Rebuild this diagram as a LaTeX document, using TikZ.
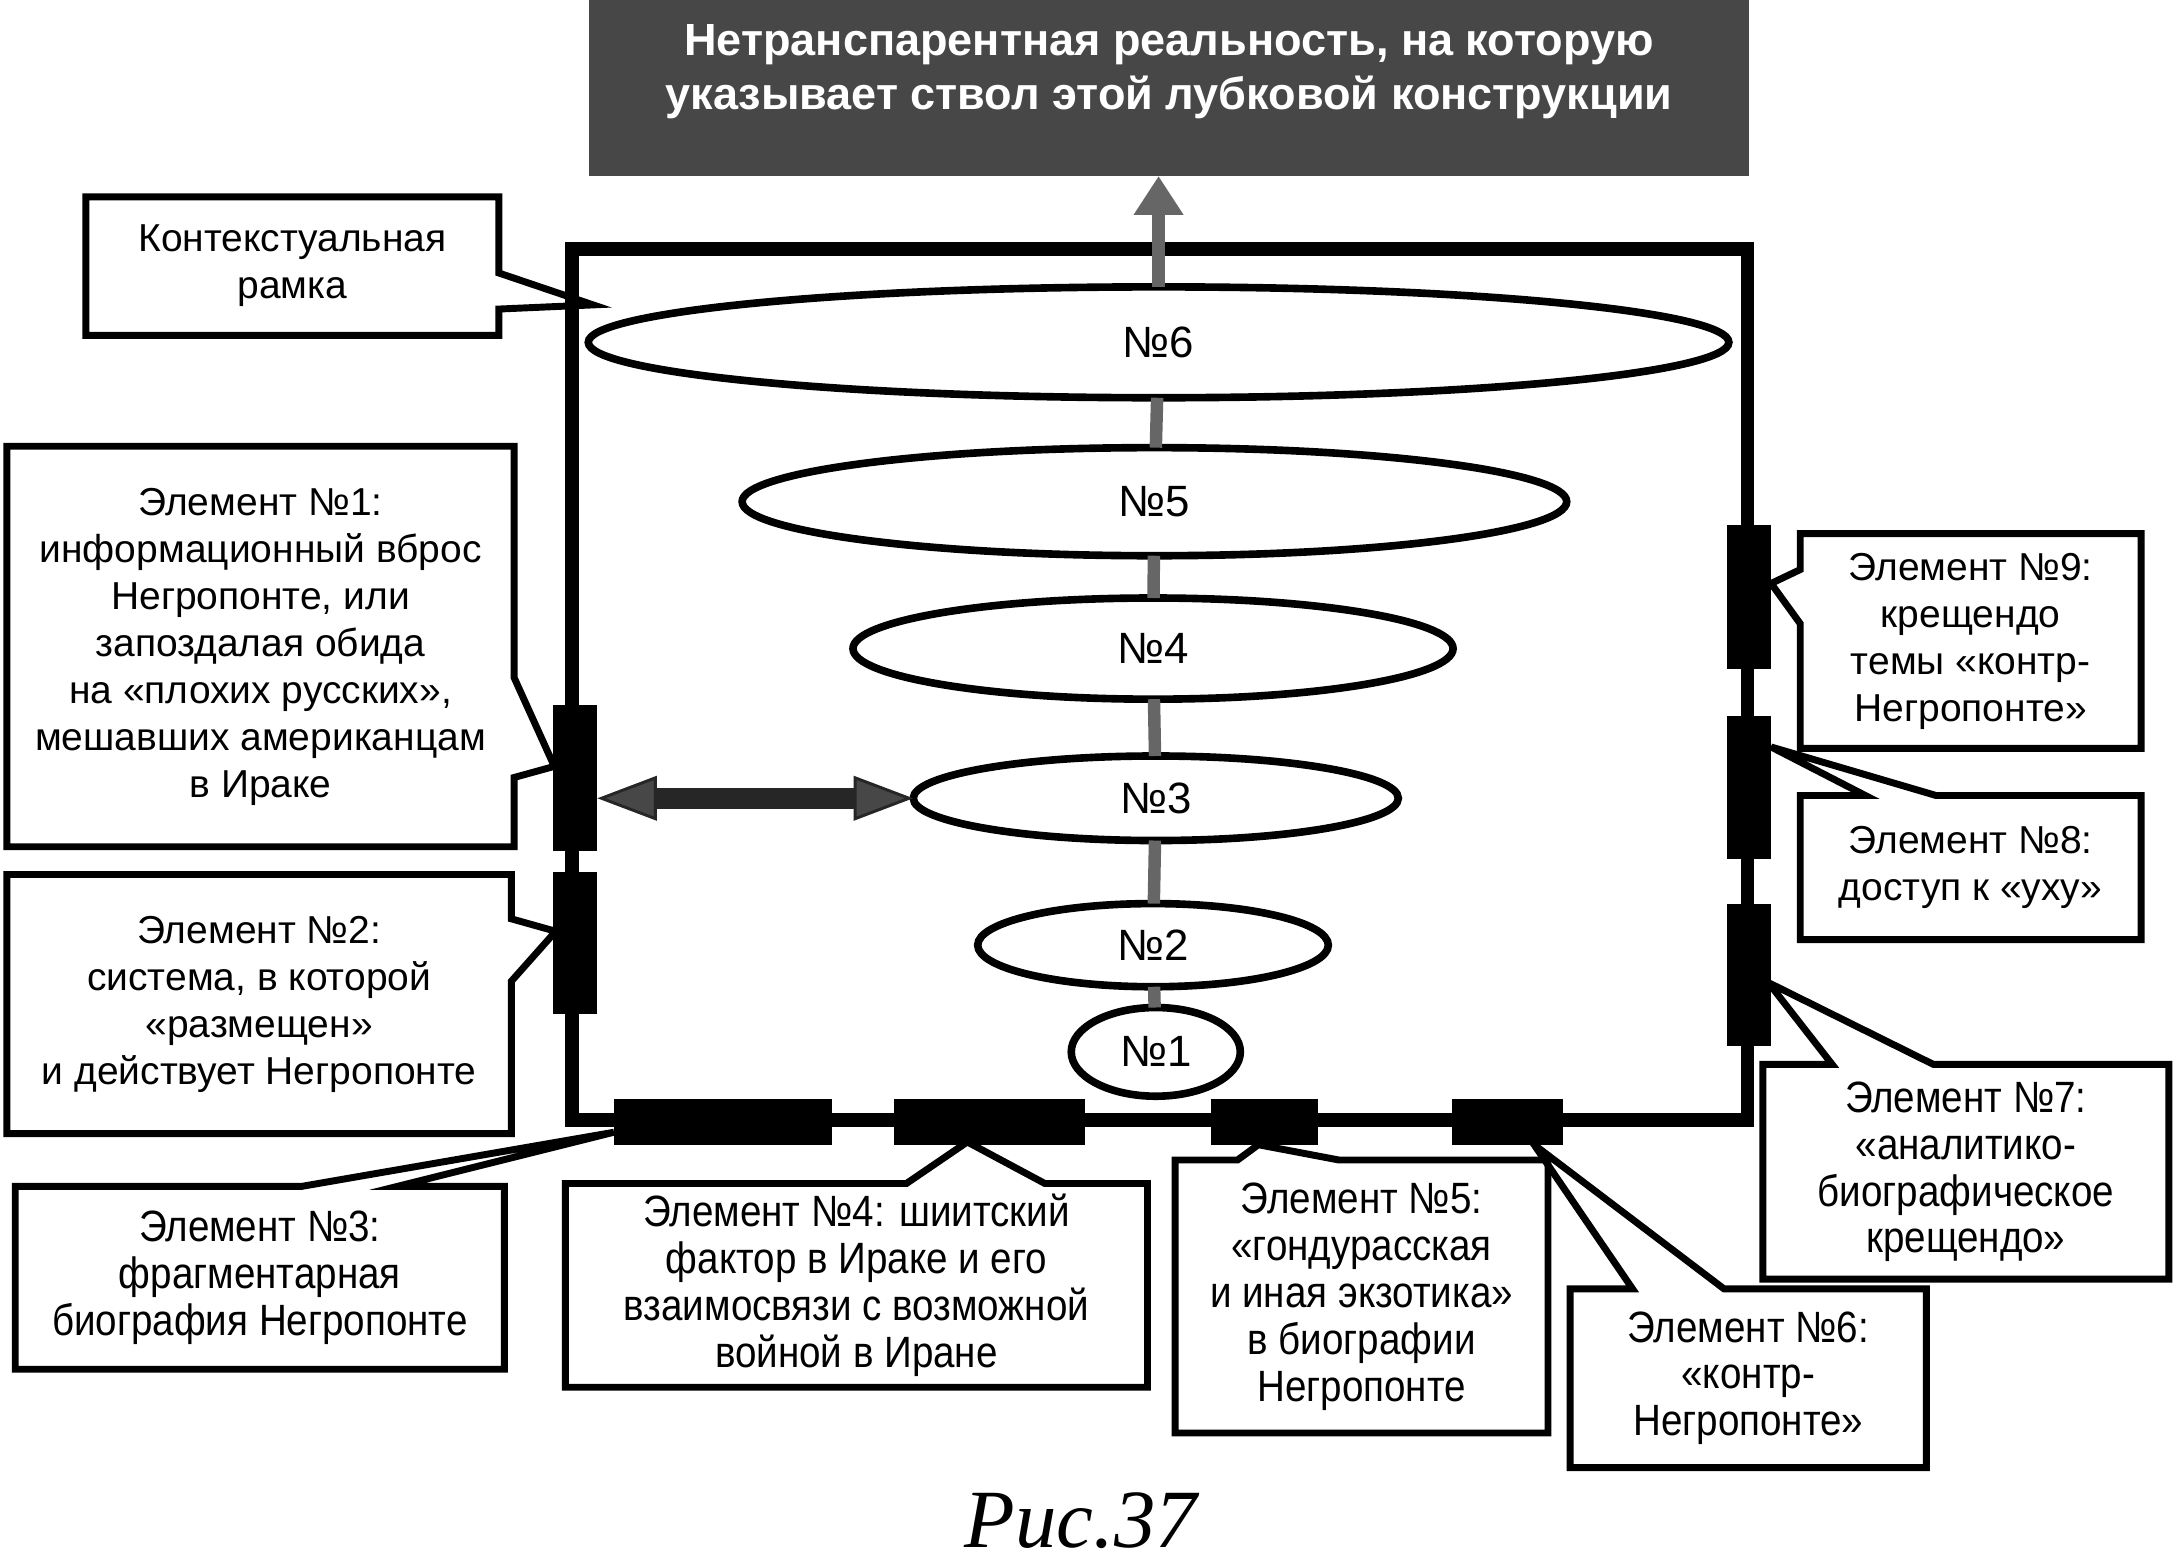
\documentclass[tikz,border=0pt]{standalone}
\usepackage{fontspec}
\setmainfont{Liberation Sans}
\newfontfamily\narrowfont[FakeStretch=0.88]{Liberation Sans}
\newfontfamily\capfont{Liberation Serif}
\usetikzlibrary{shapes.geometric,arrows.meta}

\begin{document}
\begin{tikzpicture}[x=0.02cm,y=-0.02cm,
  box/.style={fill=white,align=center,inner sep=0pt,outer sep=0pt,font=\fontsize{16}{19.3}\selectfont},
  nbox/.style={box,font=\narrowfont\fontsize{18}{19.3}\selectfont},
  callout/.style={draw,line width=0.1cm,line join=miter},
  bar/.style={fill=black,inner sep=0pt,outer sep=0pt},
  oval/.style={ellipse,draw,fill=white,line width=0.11cm,inner sep=0pt,outer sep=0pt,font=\fontsize{18}{20}\selectfont},
  trunk/.style={line width=0.18cm,black!60},
  dblarrow/.style={line width=0.3cm,black!85,{Triangle[length=0.86cm,width=0.64cm,line width=1.2pt,fill=black!72]}-{Triangle[length=0.86cm,width=0.64cm,line width=1.2pt,fill=black!72]}}]

\useasboundingbox (0,0) rectangle (1568,1130);

\node[fill=black!72,minimum width=837*0.02cm,minimum height=127*0.02cm,inner sep=0pt,outer sep=0pt,
  label={[text=white,font=\bfseries\fontsize{18.5}{22.2}\selectfont,align=center,yshift=0.24cm]center:Нетранспарентная реальность, на которую\\указывает ствол этой лубковой конструкции}] (title) at (843.5,63.5) {};

% contextual frame
\draw[line width=0.2cm] (413,179.5) rectangle (1261,808);

\foreach \n/\x/\y/\w/\h in {6/836/247/823/80, 5/833/362/595/78, 4/832/468/433/73, 3/834/576/350/61, 2/832/682/253/60, 1/834/759/122/64}
  \node[oval,minimum width=\w*0.02cm,minimum height=\h*0.02cm] (n\n) at (\x,\y) {№\n};

\foreach \a/\b in {1/2,2/3,3/4,4/5,5/6}
  \draw[trunk] (n\a) -- (n\b);
\draw[trunk,-{Triangle[length=0.56cm,width=0.68cm]}] (n6.north) -- (n6.north |- title.south);

\foreach \b/\x/\y/\w/\h in {1/415/561.5/32/105, 2/415/680.5/32/103, 3/521.5/809.5/157/33, 4/714/809.5/138/33, 5/912.5/809.5/77/33, 6/1088/809.5/80/33, 7/1262/703.5/32/103, 8/1262/568.5/32/103, 9/1262/431/32/104}
  \node[bar,minimum width=\w*0.02cm,minimum height=\h*0.02cm] (b\b) at (\x,\y) {};

\draw[dblarrow] (n3.west -| b1.east) -- (n3.west);

% callouts
\coordinate (t0) at (428,220);
\coordinate (t1) at (400,553);
\coordinate (t2) at (401,672);
\coordinate (t3) at (443,817);
\coordinate (t4) at (698,824);
\coordinate (t5) at (908,826);
\coordinate (t6) at (1107,826);
\coordinate (t7) at (1276,709);
\coordinate (t8) at (1278,539);
\coordinate (t9) at (1278,421);

\node[box,minimum width=298*0.02cm,minimum height=100*0.02cm] (ctx) at (211,192) {Контекстуальная\\рамка};
\draw[callout] (ctx.north west) -- (ctx.north east) -- (360,197) -- (t0) -- (360,223) -- (ctx.south east) -- (ctx.south west) -- cycle;

\node[box,minimum width=366*0.02cm,minimum height=289*0.02cm] (e1) at (188,466.5)
  {Элемент №1:\\информационный вброс\\Негропонте, или\\запоздалая обида\\на «плохих русских»,\\мешавших американцам\\в Ираке};
\draw[callout] (e1.north west) -- (e1.north east) -- (371,489) -- (t1) -- (371,561) -- (e1.south east) -- (e1.south west) -- cycle;

\node[box,minimum width=364*0.02cm,minimum height=187*0.02cm] (e2) at (187,724.5)
  {Элемент №2:\\система, в которой\\«размещен»\\и действует Негропонте};
\draw[callout] (e2.north west) -- (e2.north east) -- (369,663) -- (t2) -- (369,708) -- (e2.south east) -- (e2.south west) -- cycle;

\node[nbox,minimum width=353*0.02cm,minimum height=132*0.02cm] (e3) at (187.5,922)
  {Элемент №3:\\фрагментарная\\биография Негропонте};
\draw[callout] (e3.north west) -- (218,856) -- (t3) -- (287,856) -- (e3.north east) -- (e3.south east) -- (e3.south west) -- cycle;

\node[nbox,minimum width=420*0.02cm,minimum height=147*0.02cm] (e4) at (618,927.5)
  {Элемент №4: шиитский\\фактор в Ираке и его\\взаимосвязи с возможной\\войной в Иране};
\draw[callout] (e4.north west) -- (654,854) -- (t4) -- (754,854) -- (e4.north east) -- (e4.south east) -- (e4.south west) -- cycle;

\node[nbox,minimum width=269*0.02cm,minimum height=197*0.02cm] (e5) at (982.5,935.5)
  {Элемент №5:\\«гондурасская\\и иная экзотика»\\в биографии\\Негропонте};
\draw[callout] (e5.north west) -- (893,837) -- (t5) -- (966,837) -- (e5.north east) -- (e5.south east) -- (e5.south west) -- cycle;

\node[nbox,minimum width=257*0.02cm,minimum height=129*0.02cm] (e6) at (1261.5,994.5)
  {Элемент №6:\\«контр-\\Негропонте»};
\draw[callout] (e6.north west) -- (1178,930) -- (t6) -- (1244,930) -- (e6.north east) -- (e6.south east) -- (e6.south west) -- cycle;

\node[nbox,minimum width=293*0.02cm,minimum height=155*0.02cm] (e7) at (1418.5,845.5)
  {Элемент №7:\\«аналитико-\\биографическое\\крещендо»};
\draw[callout] (e7.north west) -- (1322,768) -- (t7) -- (1395,768) -- (e7.north east) -- (e7.south east) -- (e7.south west) -- cycle;

\node[box,minimum width=246*0.02cm,minimum height=104*0.02cm] (e8) at (1422,626)
  {Элемент №8:\\доступ к «уху»};
\draw[callout] (e8.north west) -- (1346,574) -- (t8) -- (1397,574) -- (e8.north east) -- (e8.south east) -- (e8.south west) -- cycle;

\node[box,minimum width=246*0.02cm,minimum height=155*0.02cm] (e9) at (1422,462.5)
  {Элемент №9:\\крещендо\\темы «контр-\\Негропонте»};
\draw[callout] (e9.north west) -- (e9.north east) -- (e9.south east) -- (e9.south west) -- (1299,450) -- (t9) -- (1299,411) -- cycle;

\node[font=\capfont\itshape\fontsize{34}{40}\selectfont] (cap) at (780,1097) {Рис.37};

\end{tikzpicture}
\end{document}
